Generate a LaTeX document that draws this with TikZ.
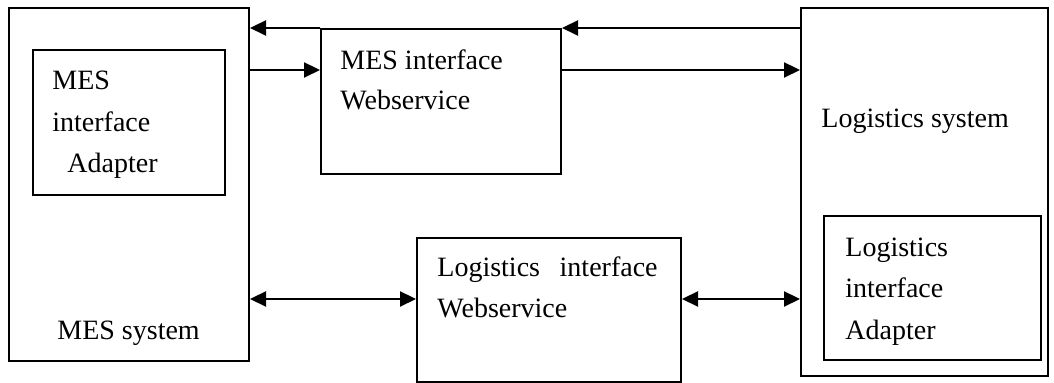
\documentclass[tikz,border=0pt]{standalone}
\usepackage{fontspec}
\setmainfont{Liberation Serif}
\usetikzlibrary{arrows.meta}
\begin{document}
\begin{tikzpicture}[x=0.5pt,y=-0.5pt,
  box/.style={draw,line width=1pt,anchor=north west,inner sep=0pt,rectangle},
  lbl/.style={anchor=base west,inner sep=0pt,font=\fontsize{14}{16}\selectfont},
  lble/.style={anchor=base east,inner sep=0pt,font=\fontsize{14}{16}\selectfont},
  tip/.style={Triangle[length=8pt,width=7.5pt]},
  arr/.style={line width=1.1pt,-{Triangle[length=8pt,width=7.5pt]}},
  darr/.style={line width=1.1pt,{Triangle[length=8pt,width=7.5pt]}-{Triangle[length=8pt,width=7.5pt]}}]
\useasboundingbox (0,0) rectangle (1054,383);
% boxes
\node[box,minimum width=120pt,minimum height=176.5pt] (mes) at (8,7) {};
\node[box,minimum width=96pt,minimum height=72.5pt] (mesad) at (32,49) {};
\node[box,minimum width=120pt,minimum height=72.5pt] (mesws) at (320,28) {};
\node[box,minimum width=123.5pt,minimum height=184pt] (log) at (800,7) {};
\node[box,minimum width=108.5pt,minimum height=72pt] (logad) at (823,215) {};
\node[box,minimum width=132pt,minimum height=72pt] (logws) at (416,237) {};
% texts
\node[lbl] (t1) at (52,90) {MES};
\node[lbl] (t2) at (52,132) {interface};
\node[lbl] (t3) at (67,173) {Adapter};
\node[lbl] (t4) at (57,340) {MES system};
\node[lbl] (t5) at (340,70) {MES interface};
\node[lbl] (t6) at (340,110) {Webservice};
\node[lbl] (t7) at (437,277) {Logistics};
\node[lble] (t8) at (658,277) {interface};
\node[lbl] (t9) at (437,318) {Webservice};
\node[lbl] (t10) at (821,128) {Logistics system};
\node[lbl] (t11) at (845,257) {Logistics};
\node[lbl] (t12) at (845,298) {interface};
\node[lbl] (t13) at (845,340) {Adapter};
% connectors
\coordinate (r1) at (0,70);
\coordinate (r2) at (0,299);
\draw[arr] (log.west |- mesws.north) -- (mesws.north east);
\draw[arr] (mesws.north west) -- (mes.east |- mesws.north);
\draw[arr] (mes.east |- r1) -- (mesws.west |- r1);
\draw[arr] (mesws.east |- r1) -- (log.west |- r1);
\draw[darr] (mes.east |- r2) -- (logws.west |- r2);
\draw[darr] (logws.east |- r2) -- (log.west |- r2);
\end{tikzpicture}
\end{document}
